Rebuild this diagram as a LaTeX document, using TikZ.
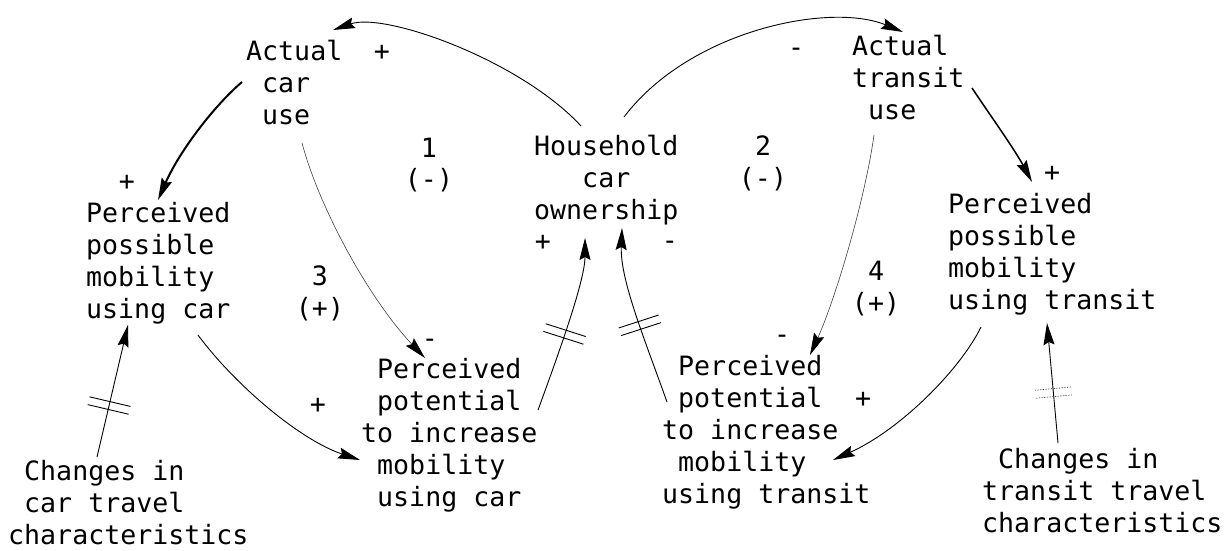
\documentclass[tikz,border=0pt]{standalone}
\usepackage{fontspec}
\newfontfamily\tw{DejaVu Sans Mono}
\usetikzlibrary{arrows.meta,calc,decorations.markings}
\newcommand\twfont{\tw\fontsize{26.6}{32}\selectfont}
\newcommand\tlines[1]{\begin{tabular}[t]{@{}l@{}}#1\end{tabular}}
\newcommand\clines[1]{\begin{tabular}[t]{@{}c@{}}#1\end{tabular}}
\newcommand\sk{\hphantom{0}}
\begin{document}
\begin{tikzpicture}[x=1pt,y=-1pt,
  txt/.style={inner sep=0pt, anchor=base west, font=\twfont},
  sgn/.style={inner sep=0pt, anchor=center, font=\twfont},
  loopl/.style={inner sep=0pt, anchor=base, font=\twfont},
  link/.style={line width=0.9pt, -{Stealth[length=22pt,width=11pt,inset=3pt]}},
  boldlink/.style={link, line width=2pt},
  midlink/.style={link, line width=1.5pt},
  faintlink/.style={line width=0.6pt, draw=black!75, -{Stealth[length=22pt,width=11pt,inset=3pt,color=black]}},
  delay/.style={postaction={decorate}, decoration={markings, mark=at position #1 with {\draw[line width=0.9pt,-] (-4pt,-21pt)--(-4pt,21pt) (4pt,-21pt)--(4pt,21pt);}}},
  faintdelay/.style={postaction={decorate}, decoration={markings, mark=at position #1 with {\draw[line width=0.6pt,densely dotted,-] (-4pt,-18pt)--(-4pt,18pt) (4pt,-18pt)--(4pt,18pt);}}},
]
\fill[white] (0,0) rectangle (1232,551);
\useasboundingbox (0,0) rectangle (1232,551);

% concept nodes
\node[txt] (acar) at (246,61) {\tlines{Actual\\\sk car\\\sk use}};
\node[txt] (atr)  at (852,56) {\tlines{Actual\\transit\\\sk use}};
\node[txt] (hh)   at (534,155) {\clines{Household\\car\\ownership}};
\node[txt] (ppc)  at (86,222) {\tlines{Perceived\\possible\\mobility\\using car}};
\node[txt] (ppt)  at (948,213) {\tlines{Perceived\\possible\\mobility\\using transit}};
\node[txt] (potc) at (361,378) {\tlines{\sk Perceived\\\sk potential\\to increase\\\sk mobility\\\sk using car}};
\node[txt] (pott) at (662,375) {\tlines{\sk Perceived\\\sk potential\\to increase\\\sk mobility\\using transit}};
\node[txt] (chc)  at (8,480) {\tlines{\sk Changes in\\\sk car travel\\characteristics}};
\node[txt] (cht)  at (982,468) {\tlines{\sk Changes in\\transit travel\\characteristics}};

% loop labels
\node[loopl] (l1) at (429,157) {\clines{1\\(-)}};
\node[loopl] (l2) at (763,155) {\clines{2\\(-)}};
\node[loopl] (l3) at (320,285) {\clines{3\\(+)}};
\node[loopl] (l4) at (876,280) {\clines{4\\(+)}};

% polarity signs
\node[sgn] (s1)  at (382,53)  {+};
\node[sgn] (s2)  at (796,52)  {-};
\node[sgn] (s3)  at (127,183) {+};
\node[sgn] (s4)  at (1052,174) {+};
\node[sgn] (s5)  at (543,243) {+};
\node[sgn] (s6)  at (670,245) {-};
\node[sgn] (s7)  at (430,343) {-};
\node[sgn] (s8)  at (318,406) {+};
\node[sgn] (s9)  at (782,339) {-};
\node[sgn] (s10) at (863,400) {+};

% connectors
\draw[link] ($(hh.base west)+(47,-29)$) .. controls (520,60) and (385,12) .. ($(acar.base west)+(87,-31)$);
\draw[link] ($(hh.base west)+(90,-38)$) .. controls (690,30) and (830,2) .. ($(atr.base west)+(51,-24)$);
\draw[boldlink] ($(acar.base west)+(-4,21)$) .. controls (215,105) and (180,150) .. ($(ppc.base west)+(72,-22)$);
\draw[midlink] ($(atr.base west)+(120,32)$) .. controls (990,115) and (1015,150) .. ($(ppt.base west)+(84,-31)$);
\draw[faintlink] ($(acar.base west)+(56,82)$) .. controls (320,210) and (370,300) .. ($(potc.base west)+(64,-20)$);
\draw[faintlink] ($(atr.base west)+(22,79)$) .. controls (865,200) and (835,300) .. ($(pott.base west)+(148,-20)$);
\draw[link] ($(ppc.base west)+(112,113)$) .. controls (235,385) and (300,440) .. ($(potc.base west)+(-1,82)$);
\draw[link] ($(ppt.base west)+(33,114)$) .. controls (960,370) and (900,430) .. ($(pott.base west)+(171,85)$);
\draw[link, delay=0.45] ($(potc.base west)+(177,32)$) .. controls (560,350) and (585,280) .. ($(hh.base west)+(51,83)$);
\draw[link, delay=0.45] ($(pott.base west)+(5,27)$) .. controls (645,340) and (620,280) .. ($(hh.base west)+(88,73)$);
\draw[link, delay=0.39] ($(chc.base west)+(89,-23)$) -- ($(ppc.base west)+(42,103)$);
\draw[link, faintdelay=0.42] ($(cht.base west)+(76,-25)$) -- ($(ppt.base west)+(99,110)$);
\end{tikzpicture}
\end{document}
